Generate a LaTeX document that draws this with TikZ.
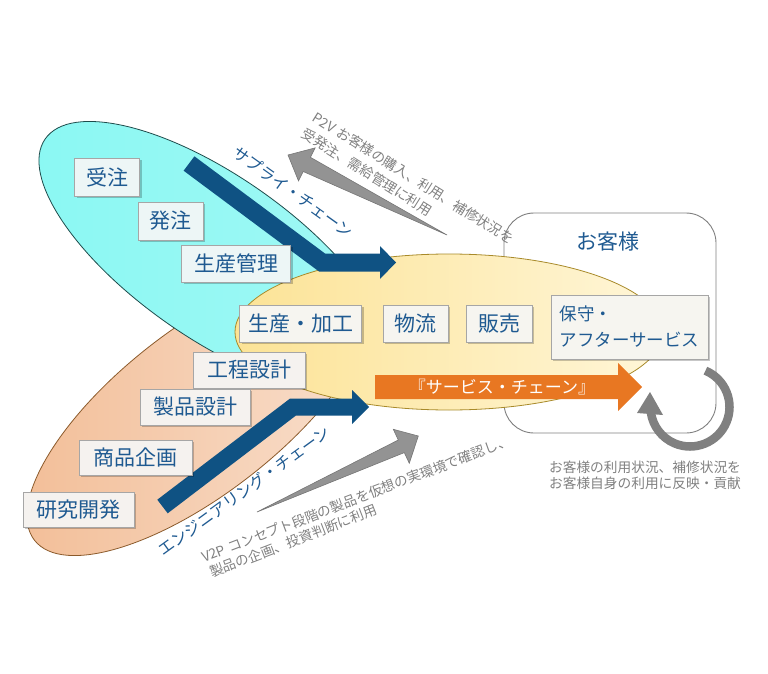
\documentclass[tikz,border=0pt]{standalone}
\usepackage{fontspec}
\setmainfont{Noto Sans CJK JP}
\usetikzlibrary{shadows}
\definecolor{txtblue}{HTML}{1F5A91}
\definecolor{arrblue}{HTML}{0F5283}
\definecolor{arrorange}{HTML}{E87722}
\definecolor{grayfill}{HTML}{939393}
\definecolor{grayline}{HTML}{767676}
\definecolor{rectline}{HTML}{7F7F7F}
\definecolor{graytxt}{HTML}{808080}
\definecolor{boxedge}{HTML}{A6A6A6}
\definecolor{cyanA}{HTML}{8AF8F3}
\definecolor{cyanB}{HTML}{30F3EA}
\definecolor{cyanC}{HTML}{A2F8F4}
\definecolor{cyanedge}{HTML}{1E4B4B}
\definecolor{peachA}{HTML}{F2BD96}
\definecolor{peachB}{HTML}{F9E1D0}
\definecolor{peachedge}{HTML}{8B5A2B}
\definecolor{yelA}{HTML}{FCE396}
\definecolor{yelB}{HTML}{FFF6D8}
\definecolor{yeledge}{HTML}{A88A2A}
\definecolor{bxcy}{HTML}{EDF6F6}
\definecolor{bxpe}{HTML}{F5F2EF}
\definecolor{bxye}{HTML}{F6F5F0}
\definecolor{arcgray}{HTML}{808080}
\tikzset{
  box/.style={draw=boxedge, line width=0.8pt, fill=#1, text=txtblue, inner sep=0pt,
    font=\fontsize{21pt}{25pt}\selectfont,
    drop shadow={shadow xshift=2pt, shadow yshift=-2pt, fill=black, opacity=0.22}},
  box/.default={white},
  graytext/.style={text=graytxt, inner sep=0pt, font=\fontsize{13.7pt}{16pt}\selectfont},
  bluelabel/.style={text=txtblue, inner sep=0pt, font=\fontsize{16pt}{18pt}\selectfont},
  grayarrow/.style={fill=grayfill, draw=grayline, line width=0.6pt, line join=miter},
  bluearrow/.style={fill=arrblue},
}
\begin{document}
\begin{tikzpicture}[x=1pt,y=-1pt]
\useasboundingbox (0,0) rectangle (768,674);

% customer area
\draw[rectline, line width=0.9pt, rounded corners=30pt] (504,213) rectangle (716,433);
\node[text=txtblue, font=\fontsize{21pt}{25pt}\selectfont] (cust) at (608,242) {お客様};

% peach ellipse (engineering)
\begin{scope}[shift={(200,411)}, rotate=38]
  \shade[left color=peachA, right color=peachB] (0,0) ellipse [x radius=210, y radius=82];
  \draw[peachedge, line width=0.8pt] (0,0) ellipse [x radius=210, y radius=82];
\end{scope}
% cyan ellipse (supply)
\begin{scope}[shift={(214,257)}, rotate=-35]
  \shade[left color=cyanA, middle color=cyanB, right color=cyanC] (0,0) ellipse [x radius=206, y radius=81];
  \draw[cyanedge, line width=0.8pt] (0,0) ellipse [x radius=206, y radius=81];
\end{scope}
% yellow ellipse
\shade[left color=yelA, right color=yelB] (449,332) ellipse [x radius=214, y radius=78];
\draw[yeledge, line width=0.8pt] (449,332) ellipse [x radius=214, y radius=78];

% gray tapered arrows
\draw[grayarrow] (447,235) -- (310.4,157.3) -- (315.1,147.9) -- (288,155) -- (298.5,180.9) -- (303.2,171.5) -- cycle;
\draw[grayarrow] (257,512) -- (398.3,440) -- (393.3,429.3) -- (418.3,436) -- (409.3,463.3) -- (404.3,452.6) -- cycle;

% blue arrows
\fill[bluearrow] (194.4,156.3) -- (325,253.5) -- (380,253.5) -- (380,246) -- (396,262.5) -- (380,279) -- (380,271.5) -- (319,271.5) -- (183.6,170.7) -- cycle;
\fill[bluearrow] (157.3,499.7) -- (290.1,398.5) -- (352,398.5) -- (352,390) -- (369,407) -- (352,424) -- (352,415.5) -- (296,415.5) -- (167.7,513.3) -- cycle;

% orange service chain arrow
\fill[arrorange] (375,375) -- (618,375) -- (618,363) -- (642,387) -- (618,411) -- (618,399) -- (375,399) -- cycle;
\node[text=white, inner sep=0pt, font=\fontsize{17pt}{18pt}\selectfont] (svc) at (502,387) {『サービス・チェーン』};

% circular arrow
\draw[arcgray, line width=8.5pt] (690,407) ++(-67:39.5) arc[start angle=-67, end angle=172, radius=39.5];
\fill[arcgray] (637,413) -- (650,392) -- (663,415) -- cycle;

% boxes
\node[box=bxcy, minimum width=65pt, minimum height=38pt] (juchu) at (107,177) {受注};
\node[box=bxcy, minimum width=65pt, minimum height=38pt] (hatchu) at (170.5,221) {発注};
\node[box=bxcy, minimum width=109pt, minimum height=37pt] (seikan) at (236,263.5) {生産管理};
\node[box=bxye, minimum width=122pt, minimum height=37pt] (kakou) at (300.5,323.5) {生産・加工};
\node[box=bxye, minimum width=65pt, minimum height=37pt] (butsu) at (415.5,323.5) {物流};
\node[box=bxye, minimum width=66pt, minimum height=37pt] (hanbai) at (499,323.5) {販売};
\node[box=bxye, minimum width=157pt, minimum height=64pt, align=left, font=\fontsize{17.5pt}{26pt}\selectfont] (hoshu) at (629.5,327) {保守・\\アフターサービス};
\node[box=bxpe, minimum width=112pt, minimum height=36pt] (koutei) at (249,370) {工程設計};
\node[box=bxpe, minimum width=110pt, minimum height=36pt] (seihin) at (195,407) {製品設計};
\node[box=bxpe, minimum width=113pt, minimum height=35pt] (shohin) at (135.5,457.5) {商品企画};
\node[box=bxpe, minimum width=111pt, minimum height=35pt] (kenkyu) at (78.5,509.5) {研究開発};

% chain labels
\node[bluelabel, rotate=-35.5] (supply) at (293,192) {サプライ・チェーン};
\node[bluelabel, rotate=36] (eng) at (244,491) {エンジニアリング・チェーン};

% gray texts
\node[graytext, rotate=-32, anchor=west] (p2va) at (314,116) {P2V\hspace{0.3em}お客様の購入、利用、補修状況を};
\node[graytext, rotate=-32, anchor=west] (p2vb) at (303,132) {受発注、需給管理に利用};
\node[graytext, rotate=21, anchor=west] (v2pa) at (202,558) {V2P\hspace{0.3em}コンセプト段階の製品を仮想の実環境で確認し、};
\node[graytext, rotate=21, anchor=west] (v2pb) at (210,573) {製品の企画、投資判断に利用};
\node[graytext] (fb1) at (645,467) {お客様の利用状況、補修状況を};
\node[graytext] (fb2) at (645,483) {お客様自身の利用に反映・貢献};
\end{tikzpicture}
\end{document}
